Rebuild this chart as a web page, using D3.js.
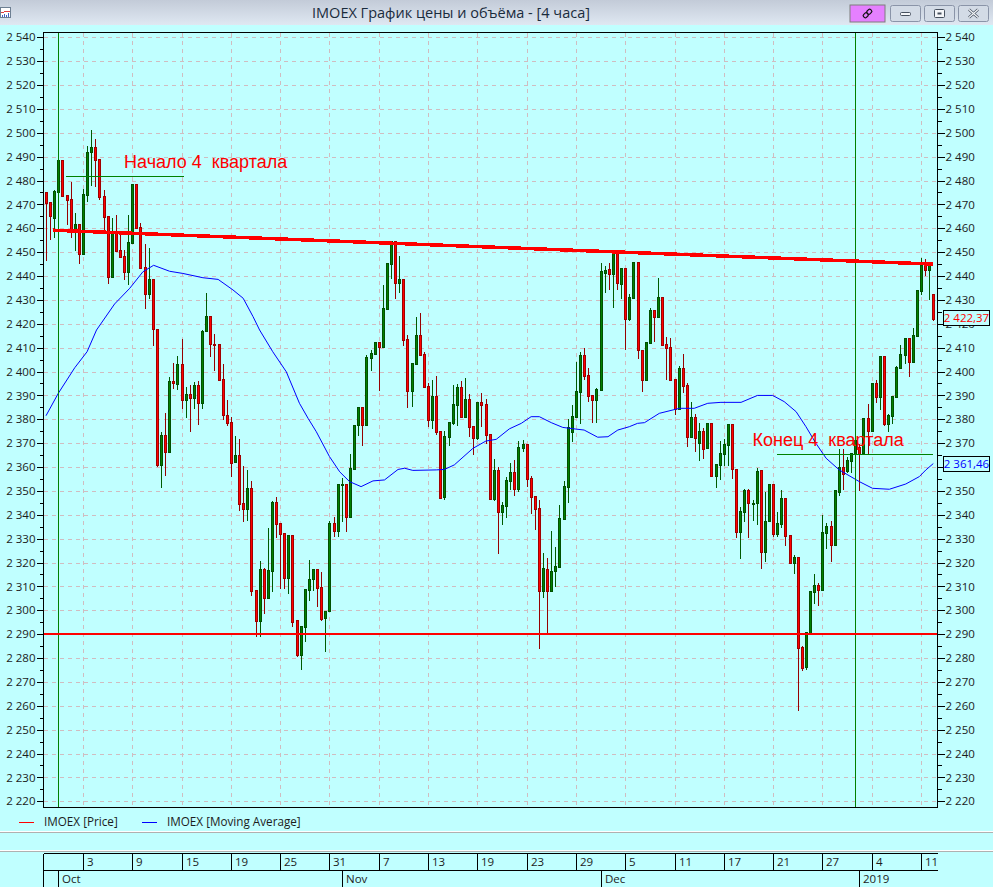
<!DOCTYPE html>
<html>
<head>
<meta charset="utf-8">
<script src="https://cdn.jsdelivr.net/npm/d3@7"></script>
<style>
  html, body { margin: 0; padding: 0; background: #c0ffff; overflow: hidden; }
  svg { display: block; }
  text { font-family: "Open Sans", sans-serif; fill: #1c1c1c; }
  .note { font-family: "Liberation Sans", sans-serif; font-size: 18px; fill: #ff0000; white-space: pre; }
  .axis path { display: none; }
  .axis line { stroke: #000; shape-rendering: crispEdges; }
  .axis text { font-size: 11.5px; }
</style>
</head>
<body>
<div id="chart"></div>
<script>
/* Candles, one entry per 4 hour bar. */
const opens = [
  2475,2471,2464.3,2475.4,2488.5,2473.8,2472.3,2459.6,2461.8,2449.3,
  2474,2492,2494,2489,2473.5,2465.2,2439.8,2458.6,2450.9,2448.4,
  2441.8,2454,2478.6,2460.4,2444,2432.5,2438.8,2417.7,2360.9,2373.3,
  2366.4,2396,2394.8,2403.2,2388.2,2390.5,2388.9,2394.4,2387,2417,
  2423.3,2411.7,2411.4,2396.7,2382,2378.7,2362.2,2365,2344.8,2342.6,
  2351.2,2308.5,2295.7,2317.3,2305.3,2316.6,2345.2,2336.4,2332.2,2313.7,
  2331.4,2295.9,2281.3,2293.1,2308.5,2313,2317.2,2309.7,2296.8,2299.8,
  2336.4,2333.2,2352.6,2352.8,2339.2,2359.3,2377.6,2385.2,2377.6,2405.8,
  2407.5,2412.2,2410.3,2426.2,2445.2,2454.7,2437.2,2438.6,2413.6,2391.9,
  2403.2,2415.2,2407.4,2393.8,2379.7,2389.8,2375,2347.5,2372.7,2378.3,
  2385.9,2393.4,2381.1,2388.5,2377.2,2372.3,2387.3,2386.4,2373.9,2346.8,
  2358.8,2341.2,2343.8,2354.3,2357.9,2350.8,2368,2369.7,2355.4,2347.9,
  2342.7,2308.2,2317.2,2308.2,2316.3,2318.3,2338.4,2351.8,2374.8,2381.1,
  2391.6,2406.9,2398.6,2390.2,2388.1,2392.3,2441.3,2442.8,2440.9,2449.5,
  2436.7,2443.4,2422,2430.8,2445.9,2409,2396.5,2412.1,2425.8,2423,
  2431.1,2411.6,2410.2,2396.9,2384.3,2401.4,2394.2,2372.5,2381,2370,
  2375,2367.8,2378.3,2356.4,2360.9,2365.5,2369.4,2378,2359,2332.7,
  2341.3,2350.4,2344.4,2344.8,2358.8,2324.6,2337.2,2352.8,2332,2336.2,
  2346.9,2331.6,2320,2322.2,2284.5,2276.4,2290.4,2307.8,2310.5,2308.5,
  2332.4,2335.3,2327.5,2349.7,2359.9,2358.5,2362.7,2365.8,2368.5,2365.8,
  2380.4,2375.1,2395.1,2389.5,2406.4,2378,2381.5,2389.5,2401.5,2406.8,
  2413.9,2404.1,2414.9,2433.7,2444.8,2442.5,2432.5
];
const highs = [
  2475,2471,2476.5,2488.5,2488.5,2473.8,2479.8,2466.8,2462.3,2476.8,
  2494.9,2501.6,2497.8,2489,2476.5,2465.2,2464.9,2466,2458.6,2451.5,
  2466,2478.6,2478.6,2462.8,2453.9,2452.3,2438.8,2417.7,2375,2382.9,
  2398.1,2404,2406.9,2414,2393.9,2394.6,2396,2396.5,2418,2433.2,
  2423.3,2416,2411.4,2403.4,2388.5,2381.4,2373.3,2372,2360.7,2359.2,
  2354.6,2309,2321,2318.1,2334.9,2346.2,2347.7,2336.4,2332.2,2331.8,
  2331.4,2295.9,2293.4,2309.2,2321.5,2317.2,2317.2,2316.5,2299.8,2338,
  2339.6,2352.9,2355.8,2352.8,2366,2377.6,2385.2,2385.6,2407.4,2409.5,
  2412.2,2412.2,2436.7,2445.5,2454.7,2454.7,2448.8,2438.6,2415.7,2403.4,
  2423.1,2424.8,2408.6,2395.8,2396.9,2398.6,2375,2375.5,2379.3,2394.8,
  2395,2396.5,2397.7,2390.9,2377.2,2387.3,2391.3,2388.8,2373.9,2363.7,
  2360.4,2345.8,2356.3,2362.3,2363.4,2371.2,2371.6,2369.7,2356.6,2347.9,
  2346.5,2324.3,2322.2,2333.6,2326.9,2344.5,2354.6,2380.4,2386.4,2404.4,
  2408.8,2410.2,2401.8,2390.2,2393.7,2445.8,2444.6,2445.8,2450.2,2449.5,
  2443.4,2443.4,2432.8,2445.9,2445.9,2409,2412.4,2427.2,2425.8,2439.8,
  2431.1,2414.9,2414.3,2396.9,2402.8,2407.6,2395.5,2387.7,2382.8,2379,
  2376.9,2378.3,2378.3,2361.1,2371.3,2372,2378.6,2378.6,2359,2343.7,
  2351.1,2351.1,2346.7,2359.9,2358.8,2349.9,2352.8,2352.8,2341.8,2350.7,
  2346.9,2331.6,2323.6,2322.2,2285.5,2291.4,2308.1,2315.5,2311.7,2340.4,
  2336.9,2337.9,2350.8,2368.1,2367.8,2364.5,2365.8,2375,2370,2381.1,
  2386.7,2395.1,2396.9,2406.4,2406.4,2382.8,2389.8,2402.6,2411.5,2413.9,
  2413.9,2418.5,2434,2447.9,2447.4,2444.6,2432.5
];
const lows = [
  2446.7,2455.7,2456.5,2475.4,2473.7,2461.8,2456.5,2451,2445.3,2449.3,
  2471.6,2478,2477.7,2472.3,2459.3,2437,2439.8,2450.6,2448.1,2438.8,
  2436.7,2454,2460.1,2443.5,2426.8,2430.7,2411.3,2360.3,2351.8,2356.8,
  2366.4,2393.1,2392.7,2384.7,2381,2375,2384.7,2378,2384.7,2417,
  2406.6,2400.6,2396.6,2380,2377.6,2356.4,2362.2,2342,2337.5,2337.8,
  2306.4,2289.4,2289.4,2299,2305.3,2308,2330.8,2309.5,2309.5,2307.4,
  2293.5,2281,2275.4,2287,2304.3,2308.6,2302,2296,2283,2299.8,
  2331.3,2331.3,2337.5,2333.2,2339.2,2359.3,2373.6,2369.2,2377.6,2400.7,
  2407.5,2392.2,2410.3,2426.2,2439.3,2430.8,2433.3,2411.1,2385.3,2385.6,
  2403.2,2407,2393.7,2377.2,2376.2,2373.8,2347.2,2346.8,2369.2,2377.9,
  2377.6,2381.1,2381.1,2373.2,2365.5,2371.6,2377.2,2369.9,2346.8,2346.2,
  2324.2,2336.3,2339.2,2350.7,2348.3,2350,2366.9,2352.1,2340.6,2334.1,
  2284.3,2305.7,2291,2308.2,2310.2,2318,2338.4,2345.5,2371.1,2381.1,
  2378.3,2396.9,2387.8,2379,2379,2392.3,2433.5,2434.6,2427.2,2434.6,
  2430.7,2409.5,2421.6,2430.8,2405.8,2391.9,2396.5,2412.1,2412.8,2423,
  2411.3,2396.9,2396.6,2382.2,2384.3,2391.6,2368.8,2372.5,2366.9,2363,
  2363.7,2367.8,2356.4,2351.8,2355,2361,2361,2355.3,2330.9,2321.7,
  2337.4,2330.9,2337.9,2336.2,2317.9,2320.7,2337.2,2331.3,2331.3,2334.8,
  2327.4,2320,2315.8,2258.3,2275.2,2275.6,2290.4,2303,2302.3,2308.5,
  2326.1,2320.7,2327.5,2348.3,2350.8,2358,2358,2365.8,2350.4,2365.8,
  2366,2375.1,2387.1,2384.2,2377.6,2375.2,2378.3,2389.5,2401.5,2403.5,
  2398.3,2404.1,2414.9,2432.6,2440.4,2430.4,2421.6
];
const closes = [
  2470.7,2465,2475.6,2488.5,2473.7,2471.9,2459.6,2461.8,2449.3,2474.4,
  2492,2494,2488.6,2473.3,2464.9,2439.8,2458.6,2450.6,2448.1,2441.8,
  2454.3,2478.6,2460.1,2443.5,2432.5,2438.8,2418,2361,2373.3,2366.4,
  2396,2395.3,2403.2,2388.2,2390.5,2389,2394.4,2387,2417,2423.3,
  2411.7,2411,2396.6,2382,2378.6,2361.8,2365,2344.7,2342.6,2351.2,
  2308.2,2295.7,2317.3,2305.3,2316.9,2345.2,2336.3,2332,2313.7,2331.5,
  2295.2,2281.3,2293.4,2308.9,2313,2317.2,2309.5,2296.5,2299.8,2336.4,
  2333.2,2352.9,2352.8,2339.2,2359.6,2377.6,2385.2,2377.6,2406.1,2407.8,
  2412.2,2410.3,2426.6,2445.5,2454.7,2437.2,2438.6,2413.4,2391.9,2403.4,
  2415.2,2407,2393.7,2379.7,2389.8,2374.7,2347.2,2373,2378.9,2386.4,
  2393.4,2381.1,2388.5,2376.9,2372.3,2387.3,2386,2373.6,2346.8,2358.8,
  2341.2,2344.1,2354.6,2357.9,2350.8,2368.4,2369.7,2355.1,2347.6,2342.3,
  2308.2,2317.6,2308.2,2316.3,2318.6,2338.5,2352,2376.6,2381.4,2391.7,
  2406.9,2398.3,2389.9,2388.1,2392.6,2442,2442.4,2440.9,2449.5,2437.2,
  2443.4,2422,2431.1,2445.9,2409,2396.5,2412.4,2425.8,2423,2431.1,
  2411.3,2409.9,2396.6,2384.3,2401.4,2394.1,2372.5,2381,2372,2375,
  2367.7,2378.3,2356.4,2361.1,2365.8,2369.7,2378,2359,2332.7,2341.6,
  2350.4,2344.8,2344.8,2358.5,2324.6,2337.4,2352.8,2332,2336.5,2346.9,
  2331.3,2320,2322.2,2284.4,2275.7,2291,2308.1,2310.5,2308.5,2332.8,
  2335.3,2327.5,2350.4,2359.9,2357,2363,2365.8,2371.3,2365.5,2380.7,
  2375.1,2395.1,2389.5,2406.4,2378,2381.8,2389.8,2401.8,2407.4,2413.9,
  2404.1,2415.2,2434,2444.8,2442.5,2444.6,2422
];

/* Moving average, read at the bar positions in maBars. */
const maBars = [0,3,7,10,12.3,16.7,20.4,23.6,26.2,30.1,33.3,38.2,41.9,45.5,48,50.4,52,55.2,58.5,61.7,63.8,65.8,
  69,71.5,73.9,76.7,79.6,82.4,85.7,87.3,89.3,95,97,99.4,103.9,107.1,109.6,112.8,115.7,118.1,120.1,123,125.8,129,131,
  134.3,136.8,139.2,142,144,145.7,149.3,154.2,157.8,161.1,164.3,169.2,173.2,176.9,179.7,182.6,185,187.4,189.9,193.1,
  198,201.2,205.3,209.3,212.6,214.2,216];
const maValues = [2381.5,2390.9,2401.6,2408.3,2417.4,2428.3,2434.9,2441.8,2444.5,2442,2441.1,2439.3,2438.6,2434.2,2430.7,2423,2417.4,2408.3,2399.9,2386.7,2380.4,2374.8,
  2364.4,2358,2353.9,2351.8,2354.2,2354.6,2359,2359.5,2358.6,2358.8,2359,2360.9,2367.8,2370.9,2371.6,2376,2378.3,2381.1,2381.1,2378.6,2376.6,2375.9,2375.5,
  2372.5,2372.7,2375.5,2376.9,2378.3,2378.6,2382.5,2384.6,2384.6,2386.7,2387.1,2387.1,2390,2390,2387.4,2383.2,2376.9,2370,2363.7,2358.8,
  2353.9,2351.1,2350.7,2352.9,2356,2358.8,2361.46];

const lastPrice = 2422.37;
const lastAverage = 2361.46;
const supportLevel = 2290;
const trendBars = [1.6, 216];
const trendValues = [2459.2, 2445];

const quarterBars = [3, 197];

/* Bottom time axis */
const dayBars = [9,21,33,45,57,69,81,93,105,117,129,141,153,165,177,189,201,213];
const dayLabels = ["3","9","15","19","25","31","7","13","19","23","29","5","11","17","21","27","4","11"];
const monthBars = [3, 72, 135, 198];
const monthLabels = ["Oct", "Nov", "Dec", "2019"];

const notes = [
  { text: "Начало 4  квартала", bar: 19, value: 2485.4, from: 4.9, to: 33.7, level: 2481.8 },
  { text: "Конец 4  квартала", bar: 172, value: 2369, from: 178, to: 216, level: 2365.3 }
];

// ---------------- chart parameters ---------------- //
const width = 993,
  height = 887,
  plotLeft = 43.5,
  plotRight = 937.5,
  plotTop = 32.5,
  plotBtm = 807.5;

const svg = d3.select("#chart")
  .append("svg")
  .attr("width", width)
  .attr("height", height);

const defs = svg.append("defs");
const barFill = defs.append("linearGradient")
  .attr("id", "titleBar")
  .attr("x1", 0).attr("y1", 0).attr("x2", 0).attr("y2", 1);
barFill.append("stop").attr("offset", 0).attr("stop-color", "#c3cbd8");
barFill.append("stop").attr("offset", 1).attr("stop-color", "#dfe8f2");

const xScale = d3.scaleLinear().domain([0, 216]).range([46, 933.3]);
const yScale = d3.scaleLinear().domain([2220, 2540]).range([801.3, 37.3]);

// snap a bar position to the pixel centre so candles stay crisp
const xPix = i => Math.round(xScale(i)) + 0.5;
const yPix = v => Math.round(yScale(v)) + 0.5;

const majorTicks = d3.range(2220, 2541, 10);
const minorTicks = d3.range(2225, 2540, 10);
const priceFormat = v => String(v).replace(/^(\d)(\d{3})/, "$1 $2");

// grid
const grid = svg.append("g").attr("class", "grid")
  .style("shape-rendering", "crispEdges")
  .attr("stroke", "#d0bcc0")
  .attr("stroke-dasharray", "4,4");
grid.selectAll("line.h")
  .data(majorTicks)
  .enter()
  .append("line")
  .attr("class", "h")
  .attr("x1", plotLeft)
  .attr("x2", plotRight)
  .attr("y1", yPix)
  .attr("y2", yPix);
grid.selectAll("line.v")
  .data(dayBars)
  .enter()
  .append("line")
  .attr("class", "v")
  .attr("x1", xPix)
  .attr("x2", xPix)
  .attr("y1", plotTop)
  .attr("y2", plotBtm);

// candles
const bars = d3.range(opens.length);
const isUp = i => closes[i] >= opens[i];

const candles = svg.append("g").attr("class", "candles")
  .style("shape-rendering", "crispEdges");
candles.selectAll("line")
  .data(bars)
  .enter()
  .append("line")
  .attr("x1", xPix)
  .attr("x2", xPix)
  .attr("y1", i => yPix(highs[i]))
  .attr("y2", i => yPix(lows[i]))
  .attr("stroke", i => isUp(i) ? "#005a00" : "#960000");
candles.selectAll("rect")
  .data(bars)
  .enter()
  .append("rect")
  .attr("x", i => xPix(i) - 1)
  .attr("width", 2)
  .attr("y", i => yPix(Math.max(opens[i], closes[i])))
  .attr("height", i => Math.abs(yPix(opens[i]) - yPix(closes[i])))
  .attr("fill", i => isUp(i) ? "#008000" : "#ff0000")
  .attr("stroke", i => isUp(i) ? "#005000" : "#a00000");

// moving average
svg.append("path")
  .datum(maBars)
  .attr("fill", "none")
  .attr("stroke", "#0000ff")
  .attr("stroke-width", 1)
  .attr("d", d3.line()
    .x(d => xScale(d))
    .y((d, i) => yScale(maValues[i])));

// quarter markers
svg.append("g")
  .selectAll("line")
  .data(quarterBars)
  .enter()
  .append("line")
  .attr("x1", xPix)
  .attr("x2", xPix)
  .attr("y1", plotTop)
  .attr("y2", plotBtm)
  .attr("stroke", "#008000")
  .attr("stroke-width", 1)
  .style("shape-rendering", "crispEdges");

// level lines
svg.append("line")
  .attr("x1", plotLeft)
  .attr("x2", plotRight)
  .attr("y1", yScale(supportLevel))
  .attr("y2", yScale(supportLevel))
  .attr("stroke", "#ff0000")
  .attr("stroke-width", 2)
  .style("shape-rendering", "crispEdges");
svg.append("line")
  .attr("x1", xScale(trendBars[0]))
  .attr("x2", xScale(trendBars[1]))
  .attr("y1", yScale(trendValues[0]))
  .attr("y2", yScale(trendValues[1]))
  .attr("stroke", "#ff0000")
  .attr("stroke-width", 3.5)
  .style("shape-rendering", "crispEdges");

// notes with their green underlines
svg.append("g")
  .selectAll("line")
  .data(notes)
  .enter()
  .append("line")
  .attr("x1", d => xScale(d.from))
  .attr("x2", d => xScale(d.to))
  .attr("y1", d => yPix(d.level))
  .attr("y2", d => yPix(d.level))
  .attr("stroke", "#008000")
  .style("shape-rendering", "crispEdges");
svg.append("g")
  .selectAll("text")
  .data(notes)
  .enter()
  .append("text")
  .attr("class", "note")
  .attr("x", d => xScale(d.bar))
  .attr("y", d => yScale(d.value))
  .text(d => d.text);

// frame
svg.append("rect")
  .attr("x", plotLeft)
  .attr("y", plotTop)
  .attr("width", plotRight - plotLeft)
  .attr("height", plotBtm - plotTop)
  .attr("fill", "none")
  .attr("stroke", "#000")
  .style("shape-rendering", "crispEdges");

// price axes, labelled every 10 with a short tick every 5
function drawAxes(side, x) {
  const make = side === "left" ? d3.axisLeft : d3.axisRight;
  const group = svg.append("g")
    .attr("class", "axis")
    .attr("transform", "translate(" + x + ",0)");
  group.append("g")
    .call(make(yScale).tickValues(majorTicks).tickFormat(priceFormat).tickSize(7).tickPadding(1));
  group.append("g")
    .call(make(yScale).tickValues(minorTicks).tickFormat("").tickSize(4));
}
drawAxes("left", plotLeft);
drawAxes("right", plotRight);

// value tags on the right
const tags = [
  { value: lastPrice, color: "#ff0000" },
  { value: lastAverage, color: "#0000ff" }
];
const tag = svg.append("g")
  .selectAll("g")
  .data(tags)
  .enter()
  .append("g")
  .attr("transform", d => "translate(943.5," + (Math.round(yScale(d.value)) - 7.5) + ")");
tag.append("rect")
  .attr("width", 46)
  .attr("height", 15)
  .attr("fill", "#c0ffff")
  .attr("stroke", "#000")
  .style("shape-rendering", "crispEdges");
tag.append("text")
  .attr("x", 23)
  .attr("y", 11.5)
  .attr("text-anchor", "middle")
  .style("font-size", "11.5px")
  .style("fill", d => d.color)
  .text(d => priceFormat(Math.floor(d.value)) + "," + d.value.toFixed(2).split(".")[1]);

// legend
const legend = svg.append("g").attr("transform", "translate(0,822)");
const legendItems = [
  { label: "IMOEX [Price]", color: "#ff0000", x: 19 },
  { label: "IMOEX [Moving Average]", color: "#0000ff", x: 142 }
];
legend.selectAll("line")
  .data(legendItems)
  .enter()
  .append("line")
  .attr("x1", d => d.x)
  .attr("x2", d => d.x + 15)
  .attr("stroke", d => d.color)
  .style("shape-rendering", "crispEdges");
legend.selectAll("text")
  .data(legendItems)
  .enter()
  .append("text")
  .attr("x", d => d.x + 25)
  .attr("y", 4)
  .style("font-size", "11.7px")
  .text(d => d.label);

// panel dividers
[831, 850].forEach(y => {
  svg.append("rect").attr("x", 0).attr("y", y).attr("width", width).attr("height", 1).attr("fill", "#ffffff");
  svg.append("rect").attr("x", 0).attr("y", y + 1).attr("width", width).attr("height", 1).attr("fill", "#b0b0b0");
});

// time axis rows
const timeAxis = svg.append("g").style("shape-rendering", "crispEdges").attr("stroke", "#000");
timeAxis.append("line").attr("x1", plotLeft).attr("x2", plotRight).attr("y1", 853.5).attr("y2", 853.5);
timeAxis.append("line").attr("x1", plotLeft).attr("x2", plotRight).attr("y1", 870.5).attr("y2", 870.5);
timeAxis.append("line").attr("x1", plotLeft).attr("x2", plotLeft).attr("y1", 853.5).attr("y2", 887);
timeAxis.selectAll("line.day")
  .data(dayBars)
  .enter()
  .append("line")
  .attr("class", "day")
  .attr("x1", xPix)
  .attr("x2", xPix)
  .attr("y1", 853.5)
  .attr("y2", 870.5);
timeAxis.selectAll("line.month")
  .data(monthBars)
  .enter()
  .append("line")
  .attr("class", "month")
  .attr("x1", xPix)
  .attr("x2", xPix)
  .attr("y1", 870.5)
  .attr("y2", 887);

svg.append("g")
  .selectAll("text")
  .data(dayBars)
  .enter()
  .append("text")
  .attr("x", d => xPix(d) + 3.5)
  .attr("y", 866)
  .style("font-size", "11.5px")
  .text((d, i) => dayLabels[i]);
svg.append("g")
  .selectAll("text")
  .data(monthBars)
  .enter()
  .append("text")
  .attr("x", d => xPix(d) + 3.5)
  .attr("y", 883)
  .style("font-size", "11.5px")
  .text((d, i) => monthLabels[i]);

// window title bar
svg.append("rect")
  .attr("width", width)
  .attr("height", 25)
  .attr("fill", "url(#titleBar)");
svg.append("text")
  .attr("x", 451)
  .attr("y", 18)
  .attr("text-anchor", "middle")
  .style("font-size", "14.5px")
  .style("fill", "#1a2b3c")
  .text("IMOEX График цены и объёма - [4 часа]");

// app icon
const icon = svg.append("g").style("shape-rendering", "crispEdges");
icon.append("rect").attr("x", 0.5).attr("y", 7.5).attr("width", 10).attr("height", 10).attr("fill", "#ffffff").attr("stroke", "#6d7f92");
icon.append("path").attr("d", "M1,12H4L6,11H10").attr("fill", "none").attr("stroke", "#e04040");
icon.append("path").attr("d", "M2,17V15M4,17V14M6,17V15M8,17V13").attr("fill", "none").attr("stroke", "#4060c0");

// window buttons
const buttons = svg.append("g");
buttons.append("rect")
  .attr("x", 850).attr("y", 5).attr("width", 35).attr("height", 17)
  .attr("fill", "#e580ff").attr("stroke", "#7d7d7d");
buttons.append("g")
  .attr("transform", "translate(867.5,13.5) rotate(-45)")
  .selectAll("rect")
  .data([-4, 1])
  .enter()
  .append("rect")
  .attr("x", d => d - 1)
  .attr("y", -2)
  .attr("width", 5)
  .attr("height", 4)
  .attr("rx", 1.5)
  .attr("fill", "none")
  .attr("stroke", "#111")
  .attr("stroke-width", 1.2);
[[890.5, 30], [924.5, 30], [958.5, 30]].forEach(b => {
  buttons.append("rect")
    .attr("x", b[0]).attr("y", 5.5).attr("width", b[1]).attr("height", 16).attr("rx", 2)
    .attr("fill", "#d3dbe6").attr("stroke", "#8a94a8");
});
buttons.append("rect").attr("x", 900.5).attr("y", 12.5).attr("width", 10).attr("height", 3).attr("rx", 1)
  .attr("fill", "#f4f6f9").attr("stroke", "#46505e");
buttons.append("rect").attr("x", 934.5).attr("y", 9.5).attr("width", 10).attr("height", 8).attr("rx", 1)
  .attr("fill", "#f4f6f9").attr("stroke", "#46505e");
buttons.append("rect").attr("x", 937.5).attr("y", 12.5).attr("width", 4).attr("height", 2)
  .attr("fill", "#46505e");
buttons.append("path").attr("d", "M969,9.5L978,17.5M978,9.5L969,17.5")
  .attr("stroke", "#46505e").attr("stroke-width", 2.6);
buttons.append("path").attr("d", "M969,9.5L978,17.5M978,9.5L969,17.5")
  .attr("stroke", "#f4f6f9").attr("stroke-width", 1.2);
</script>
</body>
</html>
